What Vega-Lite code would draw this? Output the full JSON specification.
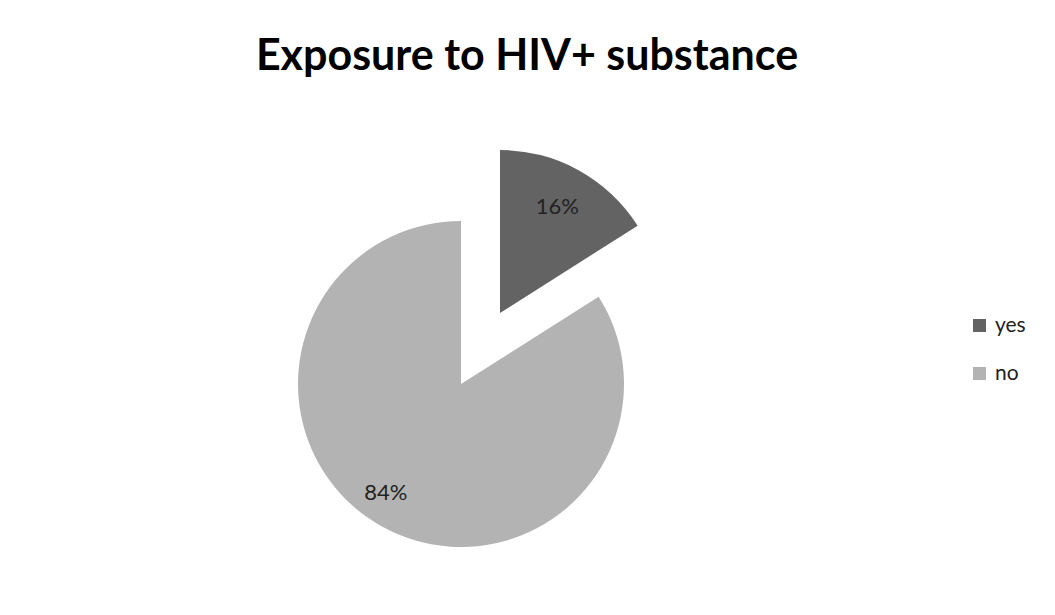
{
  "$schema": "https://vega.github.io/schema/vega-lite/v6.json",
  "width": 326,
  "height": 326,
  "autosize": {"type": "none"},
  "padding": {"left": 298, "top": 221, "right": 431, "bottom": 68},
  "background": "white",
  "config": {"view": {"stroke": null}, "font": "Lato"},
  "title": {
    "text": "Exposure to HIV+ substance",
    "fontSize": 43,
    "fontWeight": "bold",
    "font": "Lato",
    "color": "#000000",
    "anchor": "middle",
    "dx": 66,
    "offset": 71
  },
  "data": {
    "values": [
      {"answer": "yes", "share": 0.16},
      {"answer": "no", "share": 0.84}
    ]
  },
  "layer": [
    {
      "mark": {"type": "arc", "radius": 163, "stroke": null},
      "encoding": {
        "theta": {"field": "share", "type": "quantitative", "stack": true},
        "order": {"field": "share", "type": "quantitative", "sort": "ascending"},
        "color": {
          "field": "answer",
          "type": "nominal",
          "scale": {"domain": ["yes", "no"], "range": ["#636363", "#b3b3b3"]},
          "legend": {
            "title": null,
            "orient": "none",
            "legendX": 671,
            "legendY": 94,
            "padding": 0,
            "symbolType": "square",
            "symbolSize": 169,
            "symbolStrokeWidth": 0,
            "labelFontSize": 21,
            "labelFont": "Lato",
            "labelColor": "#222222",
            "labelOffset": 5,
            "rowPadding": 26
          }
        },
        "opacity": {"condition": {"test": "datum.answer === 'yes'", "value": 0}, "value": 1}
      }
    },
    {
      "mark": {"type": "arc", "radius": 163, "stroke": null, "xOffset": 39, "yOffset": -71},
      "encoding": {
        "theta": {"field": "share", "type": "quantitative", "stack": true},
        "order": {"field": "share", "type": "quantitative", "sort": "ascending"},
        "color": {"field": "answer", "type": "nominal"},
        "opacity": {"condition": {"test": "datum.answer === 'yes'", "value": 1}, "value": 0}
      }
    },
    {
      "mark": {"type": "text", "radius": 131, "fontSize": 22, "font": "Lato", "color": "#222222", "dx": -12, "dy": -6},
      "encoding": {
        "theta": {"field": "share", "type": "quantitative", "stack": true},
        "order": {"field": "share", "type": "quantitative", "sort": "ascending"},
        "text": {"field": "share", "type": "quantitative", "format": ".0%"},
        "opacity": {"condition": {"test": "datum.answer === 'yes'", "value": 0}, "value": 1}
      }
    },
    {
      "mark": {"type": "text", "radius": 119, "fontSize": 22, "font": "Lato", "color": "#222222", "dx": 39, "dy": -73},
      "encoding": {
        "theta": {"field": "share", "type": "quantitative", "stack": true},
        "order": {"field": "share", "type": "quantitative", "sort": "ascending"},
        "text": {"field": "share", "type": "quantitative", "format": ".0%"},
        "opacity": {"condition": {"test": "datum.answer === 'yes'", "value": 1}, "value": 0}
      }
    }
  ]
}
